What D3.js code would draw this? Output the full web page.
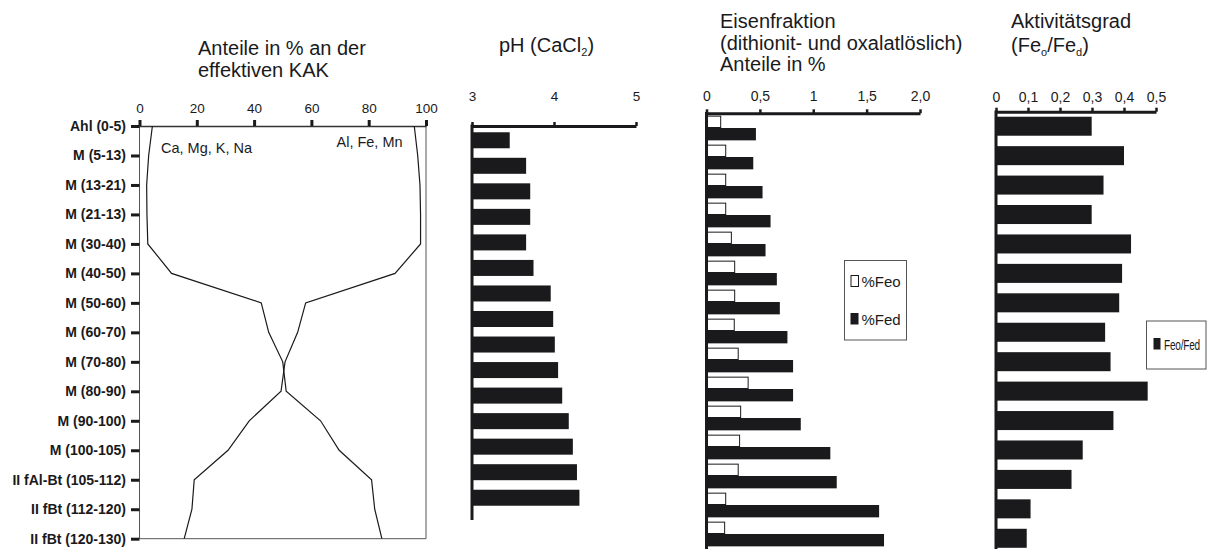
<!DOCTYPE html>
<html><head><meta charset="utf-8">
<script src="https://cdn.jsdelivr.net/npm/d3@7"></script>
<style>
html,body{margin:0;padding:0;background:#fff;}
svg{display:block;font-family:"Liberation Sans",Arial,sans-serif;}
</style></head><body>
<svg id="c" width="1207" height="549"></svg>
<script>
const categories = ["Ahl (0-5)","M (5-13)","M (13-21)","M (21-13)","M (30-40)","M (40-50)","M (50-60)","M (60-70)","M (70-80)","M (80-90)","M (90-100)","M (100-105)","II fAl-Bt (105-112)","II fBt (112-120)","II fBt (120-130)"];
// Panel 1: cumulative shares of effective CEC (%)
const kakBase = [4.5,3.2,2.5,2.6,2.9,11.2,42.5,45.1,50.0,51.2,63.2,69.7,81.0,82.1,84.6];
const kakAcid = [95.9,97.1,97.9,98.1,98.1,89.2,58.0,55.2,50.8,49.4,38.3,30.9,19.1,18.3,15.6];
const kakTicks = [0,20,40,60,80,100];
// Panel 2: pH (CaCl2)
const phValues = [3.46,3.66,3.71,3.71,3.66,3.75,3.96,3.99,4.01,4.05,4.10,4.18,4.23,4.28,4.31];
const phTicks = [3,4,5];
// Panel 3: iron fractions (%)
const feo = [0.133,0.18,0.18,0.18,0.233,0.264,0.264,0.26,0.297,0.39,0.32,0.31,0.297,0.18,0.17];
const fed = [0.463,0.438,0.525,0.60,0.553,0.659,0.687,0.758,0.811,0.811,0.883,1.16,1.22,1.617,1.663];
const eisenTicks = [0,0.5,1,1.5,2];
const eisenTickLabels = ["0","0,5","1","1,5","2,0"];
// Panel 4: Aktivitätsgrad Feo/Fed
const aktivitaet = [0.299,0.40,0.336,0.299,0.422,0.394,0.385,0.341,0.358,0.474,0.367,0.271,0.236,0.108,0.096];
const aktTicks = [0,0.1,0.2,0.3,0.4,0.5];
const aktTickLabels = ["0","0,1","0,2","0,3","0,4","0,5"];

const ink = "#1a1a1c";
const svg = d3.select("#c");

function title(x, lines){
  const t = svg.append("text").attr("font-size",20).attr("fill",ink);
  lines.forEach(([y, parts]) => {
    const ln = t.append("tspan").attr("x", x).attr("y", y);
    parts.forEach(p => {
      if (typeof p === "string") ln.append("tspan").text(p);
      else ln.append("tspan").attr("font-size", 11).attr("dy", 4).text(p.sub)
             .clone().attr("font-size",20).attr("dy",-4).text(p.after);
    });
  });
}

// ---------- Panel 1 ----------
const x1 = d3.scaleLinear().domain([0,100]).range([139.5,426]);
const y1 = d3.scalePoint().domain(categories).range([126,538.7]);
title(198, [[55,["Anteile in % an der"]],[77,["effektiven KAK"]]]);
svg.append("path").attr("d",`M${x1(0)},${y1.range()[0]}V${y1.range()[1]}H${x1(100)}V${y1.range()[0]}`)
  .attr("fill","none").attr("stroke","#555").attr("stroke-width",1);
const ax1 = svg.append("g").attr("transform",`translate(0,${y1.range()[0]})`)
  .call(d3.axisTop(x1).tickValues(kakTicks).tickSize(6).tickSizeOuter(0).tickPadding(7).tickFormat(d3.format("d")));
ax1.select(".domain").attr("stroke","#333").attr("stroke-width",1.5);
ax1.selectAll(".tick line").attr("stroke",ink).attr("stroke-width",3);
ax1.selectAll(".tick text").attr("font-size",13.5).attr("fill",ink).attr("font-family",null);
const ay1 = svg.append("g").attr("transform",`translate(${x1(0)},0)`)
  .call(d3.axisLeft(y1).tickSize(8.5).tickPadding(5));
ay1.select(".domain").remove();
ay1.selectAll(".tick line").attr("stroke",ink).attr("stroke-width",3);
ay1.selectAll(".tick text").attr("font-size",14).attr("font-weight","bold").attr("fill",ink).attr("font-family",null);
const line1 = d3.line().x(d=>x1(d)).y((d,i)=>y1(categories[i]));
[kakBase,kakAcid].forEach(s => svg.append("path").attr("d",line1(s)).attr("fill","none").attr("stroke",ink).attr("stroke-width",1.2));
svg.append("text").attr("x",161).attr("y",153).attr("font-size",14.5).attr("fill",ink).text("Ca, Mg, K, Na");
svg.append("text").attr("x",336.5).attr("y",147).attr("font-size",14.5).attr("fill",ink).text("Al, Fe, Mn");

// helper for bar panels' top axis
function topAxis(scale, y, ticks, labels, pad, size){
  const g = svg.append("g").attr("transform",`translate(0,${y})`)
    .call(d3.axisTop(scale).tickValues(ticks).tickSize(4).tickSizeOuter(0).tickPadding(pad)
      .tickFormat((d,i)=>labels[i]));
  g.select(".domain").attr("stroke",ink).attr("stroke-width",3);
  g.selectAll(".tick line").attr("stroke",ink).attr("stroke-width",2.5);
  g.selectAll(".tick text").attr("font-size",size).attr("fill",ink).attr("font-family",null);
  return g;
}

// ---------- Panel 2: pH ----------
const x2 = d3.scaleLinear().domain([3,5]).range([472,636]);
const y2 = d3.scaleBand().domain(categories).range([127.5,510.5]).paddingInner(0.373).paddingOuter(0.1865);
title(499, [[52,["pH (CaCl", {sub:"2", after:")"}]]]);
svg.append("g").selectAll("rect").data(phValues).join("rect")
  .attr("x",x2(3)).attr("y",(d,i)=>y2(categories[i])).attr("width",d=>x2(d)-x2(3)).attr("height",y2.bandwidth()).attr("fill",ink);
topAxis(x2,126,phTicks,phTicks.map(String),21,13.5);
svg.append("line").attr("x1",x2(3)).attr("x2",x2(3)).attr("y1",124.5).attr("y2",520).attr("stroke",ink).attr("stroke-width",3);

// ---------- Panel 3: Eisen ----------
const x3 = d3.scaleLinear().domain([0,2]).range([706.5,920]);
const y3 = d3.scaleBand().domain(categories).range([113.5,548.5]).paddingInner(0.148).paddingOuter(0.074);
const y3s = d3.scaleBand().domain(["Feo","Fed"]).range([0,y3.bandwidth()]);
title(720, [[27.5,["Eisenfraktion"]],[50,["(dithionit- und oxalatlöslich)"]],[71,["Anteile in %"]]]);
const g3 = svg.append("g");
g3.selectAll("rect.feo").data(feo).join("rect").attr("class","feo")
  .attr("x",x3(0)).attr("y",(d,i)=>y3(categories[i])+y3s("Feo")+0.5).attr("width",d=>x3(d)-x3(0)).attr("height",y3s.bandwidth()-1)
  .attr("fill","#fff").attr("stroke",ink).attr("stroke-width",1);
g3.selectAll("rect.fed").data(fed).join("rect").attr("class","fed")
  .attr("x",x3(0)).attr("y",(d,i)=>y3(categories[i])+y3s("Fed")).attr("width",d=>x3(d)-x3(0)).attr("height",y3s.bandwidth())
  .attr("fill",ink);
topAxis(x3,113.3,eisenTicks,eisenTickLabels,8,14);
svg.append("line").attr("x1",x3(0)).attr("x2",x3(0)).attr("y1",112).attr("y2",549).attr("stroke",ink).attr("stroke-width",3);
// legend
svg.append("rect").attr("x",844.5).attr("y",260.5).attr("width",62).attr("height",79.5).attr("fill","#fff").attr("stroke","#555");
svg.append("rect").attr("x",851).attr("y",275.5).attr("width",7.5).attr("height",11).attr("fill","#fff").attr("stroke",ink);
svg.append("text").attr("x",861.5).attr("y",287).attr("font-size",15).attr("fill",ink).text("%Feo");
svg.append("rect").attr("x",850.5).attr("y",313).attr("width",8).attr("height",11.5).attr("fill",ink);
svg.append("text").attr("x",861.5).attr("y",324.5).attr("font-size",15).attr("fill",ink).text("%Fed");

// ---------- Panel 4: Aktivitätsgrad ----------
const x4 = d3.scaleLinear().domain([0,0.5]).range([996,1156]);
const y4 = d3.scaleBand().domain(categories).range([111.5,553]).paddingInner(0.354).paddingOuter(0.177);
title(1011, [[28,["Aktivitätsgrad"]],[52,["(Fe", {sub:"o", after:"/Fe"}, {sub:"d", after:")"}]]]);
svg.append("g").selectAll("rect").data(aktivitaet).join("rect")
  .attr("x",x4(0)).attr("y",(d,i)=>y4(categories[i])).attr("width",d=>x4(d)-x4(0)).attr("height",y4.bandwidth()).attr("fill",ink);
topAxis(x4,111.7,aktTicks,aktTickLabels,5.5,14);
svg.append("line").attr("x1",x4(0)).attr("x2",x4(0)).attr("y1",110.5).attr("y2",549).attr("stroke",ink).attr("stroke-width",3);
svg.append("rect").attr("x",1146.5).attr("y",321).attr("width",59.5).attr("height",48).attr("fill","#fff").attr("stroke","#555");
svg.append("rect").attr("x",1153.5).attr("y",338).attr("width",7).attr("height",11.5).attr("fill",ink);
svg.append("text").attr("transform","translate(1164,349.5) scale(0.72,1)").attr("font-size",14).attr("fill",ink)
  .attr("letter-spacing",-0.3).text("Feo/Fed");
</script>
</body></html>
